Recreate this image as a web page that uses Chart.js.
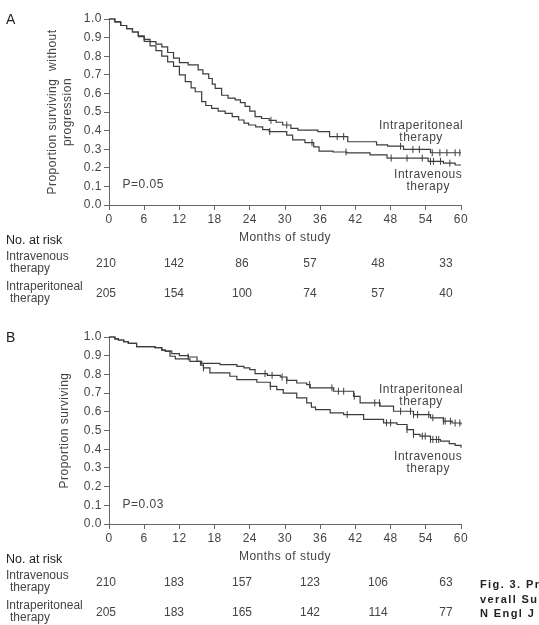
<!DOCTYPE html>
<html>
<head>
<meta charset="utf-8">
<script src="https://cdn.jsdelivr.net/npm/chart.js@4.4.0/dist/chart.umd.min.js"></script>
<style>
  html, body { margin: 0; padding: 0; background: #fff; overflow: hidden; }
  body { width: 539px; height: 625px; position: relative; font-family: "Liberation Sans", Arial, sans-serif; }
  canvas { position: absolute; left: 0; }
  #chartA { top: 0; }
  #chartB { top: 318px; }
  #caption { position: absolute; left: 480px; top: 577px; font: bold 11px "Liberation Sans", Arial, sans-serif;
             letter-spacing: 1.4px; line-height: 14.5px; color: #222; white-space: nowrap; }
</style>
</head>
<body>
<canvas id="chartA" width="539" height="310"></canvas>
<canvas id="chartB" width="539" height="307"></canvas>
<div id="caption">Fig. 3. Progression-free and O<br>verall Survival<br>N Engl J Med</div>

<script>
// ---- data ----

// Panel A: progression-free survival
const pfsMonthsIP = [0, 1, 2, 3, 4, 5, 6, 7, 8, 9, 10, 11, 12, 13.5, 15.2, 16, 17, 17.6, 18.1, 19.2, 20.3, 21.5, 22.4, 23.2, 24, 24.9, 26, 27.3, 28.5, 29.6, 31, 32.2, 35.6, 37.6, 40.7, 45.6, 47.5, 50.2, 54.8, 60];
const pfsSurvIP   = [1.0, 0.985, 0.965, 0.948, 0.93, 0.91, 0.89, 0.878, 0.865, 0.85, 0.82, 0.79, 0.765, 0.753, 0.726, 0.705, 0.68, 0.65, 0.627, 0.59, 0.575, 0.565, 0.55, 0.53, 0.505, 0.475, 0.465, 0.455, 0.445, 0.43, 0.412, 0.403, 0.395, 0.368, 0.34, 0.323, 0.316, 0.299, 0.281, 0.281];
const pfsMonthsIV = [0, 1, 2, 3, 4, 5, 6, 7, 8, 9, 10, 11, 12, 13, 14, 14.7, 15.8, 16.5, 17.5, 18.6, 19.8, 21, 22.1, 23, 23.8, 25, 26.2, 27.3, 30.3, 31.3, 33.4, 34.9, 35.8, 38.2, 40.5, 44.5, 47.4, 54.4, 57, 59, 60];
const pfsSurvIV   = [1.0, 0.985, 0.965, 0.948, 0.93, 0.905, 0.88, 0.855, 0.83, 0.8, 0.77, 0.745, 0.7, 0.663, 0.63, 0.609, 0.556, 0.535, 0.52, 0.505, 0.493, 0.475, 0.457, 0.44, 0.43, 0.42, 0.405, 0.395, 0.376, 0.35, 0.335, 0.313, 0.29, 0.285, 0.28, 0.27, 0.252, 0.235, 0.225, 0.215, 0.215];
const pfsCensorIP = [27.6, 30.3, 38.9, 40.0, 49.7, 51.8, 52.9, 55.1, 56.4, 57.6, 59.0, 59.8];
const pfsCensorIV = [27.4, 34.6, 40.4, 48.1, 50.8, 53.4, 54.8, 55.3, 56.5, 58.1];

// Panel B: overall survival
const osMonthsIP = [0, 1, 1.6, 2.5, 3.3, 4.7, 7.85, 9, 9.6, 10.4, 11.3, 13.8, 15.8, 18.9, 21.8, 23, 24, 24.9, 27, 29.2, 30.3, 32, 33.7, 34.3, 37.7, 38.3, 41.7, 42.8, 46.2, 48.5, 51.9, 54.8, 57, 58.5, 60];
const osSurvIP   = [1.0, 0.99, 0.984, 0.975, 0.966, 0.948, 0.943, 0.93, 0.925, 0.897, 0.883, 0.87, 0.859, 0.852, 0.843, 0.835, 0.826, 0.804, 0.795, 0.786, 0.768, 0.754, 0.745, 0.728, 0.728, 0.71, 0.683, 0.648, 0.63, 0.603, 0.585, 0.568, 0.55, 0.54, 0.532];
const osMonthsIV = [0, 1, 1.6, 2.5, 3.3, 4.7, 7.85, 9, 9.6, 10.7, 12, 13.5, 15, 15.6, 16.1, 17.2, 20.6, 21.8, 25.2, 27.5, 28.6, 29.7, 32, 33.7, 34.5, 35.2, 37.7, 40, 43.4, 46.8, 49.1, 50.8, 51.9, 53, 54.8, 56.5, 58, 59, 60];
const osSurvIV   = [1.0, 0.99, 0.984, 0.975, 0.966, 0.948, 0.943, 0.93, 0.925, 0.911, 0.9, 0.893, 0.87, 0.85, 0.835, 0.808, 0.79, 0.772, 0.758, 0.736, 0.719, 0.7, 0.674, 0.648, 0.625, 0.612, 0.594, 0.585, 0.559, 0.541, 0.532, 0.505, 0.479, 0.47, 0.452, 0.443, 0.43, 0.42, 0.408];
const osCensorIP = [26.6, 27.8, 29.5, 30.3, 34.2, 38.0, 39.1, 40.0, 41.8, 45.3, 46.1, 49.7, 51.4, 51.9, 52.6, 54.5, 55.2, 57.0, 57.3, 58.2, 59.0, 59.8];
const osCensorIV = [13.5, 16.1, 27.5, 40.6, 47.3, 48.0, 50.8, 51.9, 53.4, 53.9, 54.8, 55.2, 55.8, 56.2];

// numbers at risk
const riskMonths = [0, 12, 24, 36, 48, 60];
const pfsRiskIV = [210, 142, 86, 57, 48, 33];
const pfsRiskIP = [205, 154, 100, 74, 57, 40];
const osRiskIV = [210, 183, 157, 123, 106, 63];
const osRiskIP = [205, 183, 165, 142, 114, 77];

const xTicks = [0, 6, 12, 18, 24, 30, 36, 42, 48, 54, 60];

// ---- styling ----
const FONT = '"Liberation Sans", Arial, sans-serif';
const TEXT = '#444';
const AXIS = '#666';
const LINE = '#3c3c3c';
Chart.defaults.font.family = FONT;
Chart.defaults.font.size = 12;

// value of a KM step curve at time t (to sit censor marks on the line)
function stepAt(months, surv, t) {
  let v = surv[0];
  for (let i = 0; i < months.length; i++) if (months[i] <= t) v = surv[i];
  return v;
}

function curve(months, surv) {
  return {
    data: months.map((m, i) => ({x: m, y: surv[i]})),
    stepped: true, borderColor: LINE, borderWidth: 1.2,
    pointRadius: 0, fill: false, clip: false
  };
}

function censor(marks, months, surv) {
  return {
    data: marks.map(m => ({x: m, y: stepAt(months, surv, m)})),
    showLine: false, pointStyle: 'line', pointRotation: 90,
    pointRadius: 3.5, pointBorderWidth: 1, borderColor: LINE, clip: false
  };
}

function panelText(cfg) {
  return {
    id: 'panelText',
    beforeDraw(chart) { chart.ctx.letterSpacing = '0.5px'; },
    afterDraw(chart) {
      const c = chart.ctx, xs = chart.scales.x, ys = chart.scales.y, bottom = chart.chartArea.bottom;
      c.save();
      c.textBaseline = 'middle';

      // panel letter
      c.letterSpacing = '0px';
      c.fillStyle = '#222';
      c.font = '14px ' + FONT;
      c.textAlign = 'left';
      c.fillText(cfg.letter, 6, 20);

      // p value and curve labels
      c.letterSpacing = '0.5px';
      c.fillStyle = TEXT;
      c.font = '12px ' + FONT;
      c.fillText(cfg.pText, xs.getPixelForValue(2.3), ys.getPixelForValue(cfg.pY));
      c.textAlign = 'center';
      cfg.labels.forEach(l => {
        l.lines.forEach((t, k) => c.fillText(t, xs.getPixelForValue(l.x), ys.getPixelForValue(l.y[k])));
      });

      // numbers at risk table
      c.letterSpacing = '0px';
      c.textAlign = 'left';
      c.fillStyle = '#222';
      c.font = '12.5px ' + FONT;
      c.fillText('No. at risk', 6, bottom + 36);
      c.fillStyle = TEXT;
      c.font = '12px ' + FONT;
      c.fillText('Intravenous', 6, bottom + 52);
      c.fillText('therapy', 10, bottom + 64);
      c.fillText('Intraperitoneal', 6, bottom + 82);
      c.fillText('therapy', 10, bottom + 94);
      c.textAlign = 'center';
      riskMonths.forEach((m, i) => {
        const x = xs.getPixelForValue(m * 0.966) - 3;
        c.fillText(String(cfg.riskIV[i]), x, bottom + 59);
        c.fillText(String(cfg.riskIP[i]), x, bottom + 89);
      });
      c.restore();
    }
  };
}

function buildPanel(id, cfg) {
  return new Chart(document.getElementById(id), {
    type: 'line',
    data: {
      datasets: [
        curve(cfg.ipMonths, cfg.ipSurv),
        curve(cfg.ivMonths, cfg.ivSurv),
        censor(cfg.ipCensor, cfg.ipMonths, cfg.ipSurv),
        censor(cfg.ivCensor, cfg.ivMonths, cfg.ivSurv)
      ]
    },
    options: {
      responsive: false,
      animation: false,
      layout: {padding: {left: 40, right: 78, top: cfg.padTop, bottom: cfg.padBottom}},
      plugins: {legend: {display: false}, tooltip: {enabled: false}},
      scales: {
        x: {
          type: 'linear', min: 0, max: 60,
          afterBuildTicks: s => { s.ticks = xTicks.map(v => ({value: v})); },
          ticks: {color: TEXT, padding: 2, maxRotation: 0, autoSkip: false},
          grid: {drawOnChartArea: false, tickLength: 5, color: AXIS},
          border: {color: AXIS},
          title: {display: true, text: 'Months of study', color: TEXT, padding: 0},
          afterFit: s => { s.height = 40; }
        },
        y: {
          min: 0, max: 1,
          ticks: {stepSize: 0.1, color: TEXT, padding: 2, callback: v => v.toFixed(1)},
          grid: {drawOnChartArea: false, tickLength: 5, color: AXIS},
          border: {color: AXIS},
          title: {display: true, text: cfg.yTitle, color: TEXT, padding: {top: cfg.titlePad, bottom: 0}},
          afterFit: s => { s.width = 69; }
        }
      }
    },
    plugins: [panelText(cfg)]
  });
}

buildPanel('chartA', {
  letter: 'A',
  ipMonths: pfsMonthsIP, ipSurv: pfsSurvIP, ipCensor: pfsCensorIP,
  ivMonths: pfsMonthsIV, ivSurv: pfsSurvIV, ivCensor: pfsCensorIV,
  riskIV: pfsRiskIV, riskIP: pfsRiskIP,
  yTitle: ['Proportion surviving  without', 'progression'],
  titlePad: 5.8,
  padTop: 19, padBottom: 65,
  pText: 'P=0.05', pY: 0.107,
  labels: [
    {lines: ['Intraperitoneal', 'therapy'], x: 53.2, y: [0.425, 0.363]},
    {lines: ['Intravenous', 'therapy'], x: 54.4, y: [0.161, 0.097]}
  ]
});

buildPanel('chartB', {
  letter: 'B',
  ipMonths: osMonthsIP, ipSurv: osSurvIP, ipCensor: osCensorIP,
  ivMonths: osMonthsIV, ivSurv: osSurvIV, ivCensor: osCensorIV,
  riskIV: osRiskIV, riskIP: osRiskIP,
  yTitle: 'Proportion surviving',
  titlePad: 17.8,
  padTop: 19, padBottom: 61,
  pText: 'P=0.03', pY: 0.105,
  labels: [
    {lines: ['Intraperitoneal', 'therapy'], x: 53.2, y: [0.719, 0.656]},
    {lines: ['Intravenous', 'therapy'], x: 54.4, y: [0.361, 0.297]}
  ]
});
</script>
</body>
</html>
